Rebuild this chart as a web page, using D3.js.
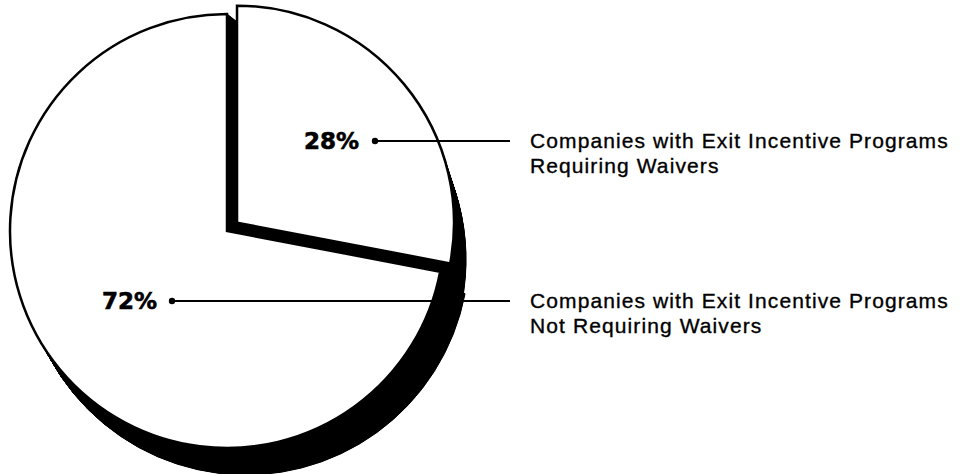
<!DOCTYPE html>
<html>
<head>
<meta charset="utf-8">
<script src="https://cdn.jsdelivr.net/npm/d3@7/dist/d3.min.js"></script>
<style>
  html, body { margin: 0; padding: 0; background: #fff; }
  svg { display: block; }
</style>
</head>
<body>
<svg id="chart" width="960" height="474"></svg>
<script>
// ---- data ----
const categories = [
  "Companies with Exit Incentive Programs Requiring Waivers",
  "Companies with Exit Incentive Programs Not Requiring Waivers"
];
const values = [28, 72];
const percentLabels = ["28%", "72%"];
const labelLines = [
  ["Companies with Exit Incentive Programs", "Requiring Waivers"],
  ["Companies with Exit Incentive Programs", "Not Requiring Waivers"]
];
const exploded = [true, false];

// ---- layout / style ----
const W = 960, H = 474;
const cx = 227, cy = 231, R = 217;
const explodeDist = 13;
// black 3D body under each slice: offset and growth of the far face
const depthX = [8, 19], depthY = [37, 21], depthGrow = [4, 6];
const calloutY = [141, 301];
const percentX = [359, 157];
const dotX = [375, 172];
const lineEndX = 510;
const textX = 530;

const svg = d3.select("#chart");

const pie = d3.pie().sort(null).value(d => d).startAngle(0).endAngle(2 * Math.PI);
const arcsData = pie(values);

function offsetFor(d, i) {
  if (!exploded[i]) return [0, 0];
  const a = (d.startAngle + d.endAngle) / 2;
  return [Math.sin(a) * explodeDist, -Math.cos(a) * explodeDist];
}

const arcGen = d3.arc().innerRadius(0);

// extrusion (black body)
const N = 48;
const body = svg.append("g");
arcsData.forEach((d, i) => {
  const [ox, oy] = offsetFor(d, i);
  for (let s = N; s >= 0; s--) {
    const t = s / N;
    body.append("path")
      .attr("transform", `translate(${cx + ox + depthX[i] * t},${cy + oy + depthY[i] * t})`)
      .attr("d", arcGen.outerRadius(R + depthGrow[i] * t)(d))
      .attr("fill", "#000")
      .attr("stroke", "#000")
      .attr("stroke-width", 1);
  }
});

// top faces
svg.append("g").selectAll("path")
  .data(arcsData)
  .join("path")
  .attr("transform", (d, i) => {
    const [ox, oy] = offsetFor(d, i);
    return `translate(${cx + ox},${cy + oy})`;
  })
  .attr("d", d => arcGen.outerRadius(R)(d))
  .attr("fill", "#fff")
  .attr("stroke", "#000")
  .attr("stroke-width", 2.5)
  .attr("stroke-linejoin", "miter");

// callouts
const call = svg.append("g");
values.forEach((v, i) => {
  const y = calloutY[i];
  call.append("line")
    .attr("x1", dotX[i]).attr("x2", lineEndX)
    .attr("y1", y).attr("y2", y)
    .attr("stroke", "#000").attr("stroke-width", 2);
  call.append("circle")
    .attr("cx", dotX[i]).attr("cy", y).attr("r", 3.2)
    .attr("fill", "#000");
  call.append("text")
    .attr("x", percentX[i]).attr("y", y + 7.5)
    .attr("text-anchor", "end")
    .attr("font-family", "DejaVu Sans, sans-serif")
    .attr("font-weight", "bold")
    .attr("font-size", 23)
    .attr("stroke", "#000").attr("stroke-width", 0.6)
    .text(percentLabels[i]);
  const t = call.append("text")
    .attr("font-family", "Liberation Sans, Arial, sans-serif")
    .attr("font-size", 21)
    .attr("letter-spacing", 1.1)
    .attr("fill", "#000")
    .attr("stroke", "#000").attr("stroke-width", 0.35);
  labelLines[i].forEach((ln, k) => {
    t.append("tspan").attr("x", textX).attr("y", y + 7 + k * 25).text(ln);
  });
});
</script>
</body>
</html>
